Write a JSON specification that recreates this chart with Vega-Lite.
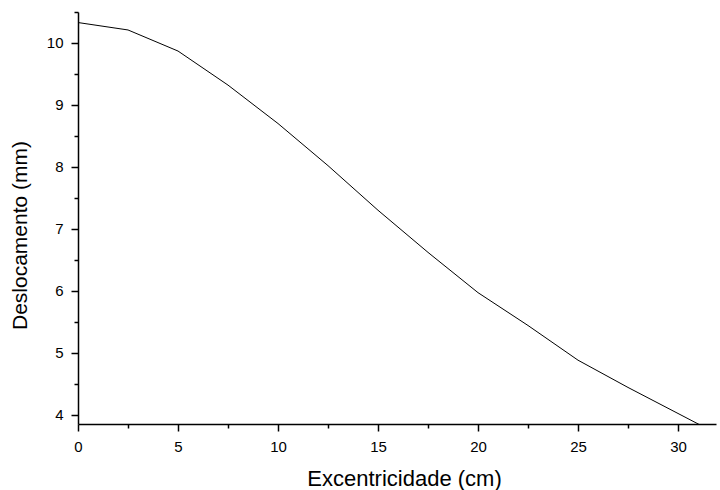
{
  "$schema": "https://vega.github.io/schema/vega-lite/v6.json",
  "width": 638,
  "height": 412,
  "autosize": {"type": "none"},
  "padding": {"left": 78, "top": 12, "right": 4, "bottom": 66},
  "background": "white",
  "config": {
    "view": {"stroke": null},
    "font": "Liberation Sans",
    "axis": {
      "grid": false,
      "domainColor": "black",
      "tickColor": "black",
      "domainWidth": 1.5,
      "tickWidth": 1.5,
      "labelColor": "black",
      "titleColor": "black",
      "labelFont": "Liberation Sans",
      "titleFont": "Liberation Sans",
      "labelFontSize": 15,
      "titleFontSize": 21,
      "titleFontWeight": "normal"
    }
  },
  "data": {
    "values": [
      {"e": 0, "d": 10.33},
      {"e": 2.5, "d": 10.21},
      {"e": 5, "d": 9.87},
      {"e": 7.5, "d": 9.32},
      {"e": 10, "d": 8.70},
      {"e": 12.5, "d": 8.02},
      {"e": 15, "d": 7.30},
      {"e": 17.5, "d": 6.62},
      {"e": 20, "d": 5.97},
      {"e": 22.5, "d": 5.44},
      {"e": 25, "d": 4.88},
      {"e": 27.5, "d": 4.44},
      {"e": 30, "d": 4.02},
      {"e": 32.5, "d": 3.60}
    ]
  },
  "resolve": {"axis": {"x": "independent", "y": "independent"}},
  "layer": [
    {
      "mark": {"type": "line", "color": "black", "strokeWidth": 1, "clip": true},
      "encoding": {
        "x": {
          "field": "e", "type": "quantitative",
          "scale": {"domain": [0, 31.9], "nice": false, "zero": false},
          "axis": {
            "orient": "bottom",
            "title": "Excentricidade (cm)",
            "titleFontSize": 22,
            "titleX": 326,
            "values": [0, 5, 10, 15, 20, 25, 30],
            "tickSize": 7, "labelPadding": 8, "titlePadding": 14,
            "labelFlush": false, "labelOverlap": false
          }
        },
        "y": {
          "field": "d", "type": "quantitative",
          "scale": {"domain": [3.85, 10.5], "nice": false, "zero": false},
          "axis": {
            "orient": "left",
            "title": "Deslocamento (mm)",
            "titleY": 223,
            "values": [4, 5, 6, 7, 8, 9, 10],
            "tickSize": 7, "labelPadding": 8, "titlePadding": 16,
            "labelFlush": false, "labelOverlap": false
          }
        }
      }
    },
    {
      "mark": {"type": "line", "strokeOpacity": 0, "clip": true},
      "encoding": {
        "x": {
          "field": "e", "type": "quantitative",
          "axis": {
            "orient": "bottom", "title": null, "labels": false, "domain": false,
            "values": [2.5, 7.5, 12.5, 17.5, 22.5, 27.5],
            "tickSize": 4
          }
        },
        "y": {
          "field": "d", "type": "quantitative",
          "axis": {
            "orient": "left", "title": null, "labels": false, "domain": false,
            "values": [4.5, 5.5, 6.5, 7.5, 8.5, 9.5, 10.5],
            "tickSize": 4
          }
        }
      }
    }
  ]
}
